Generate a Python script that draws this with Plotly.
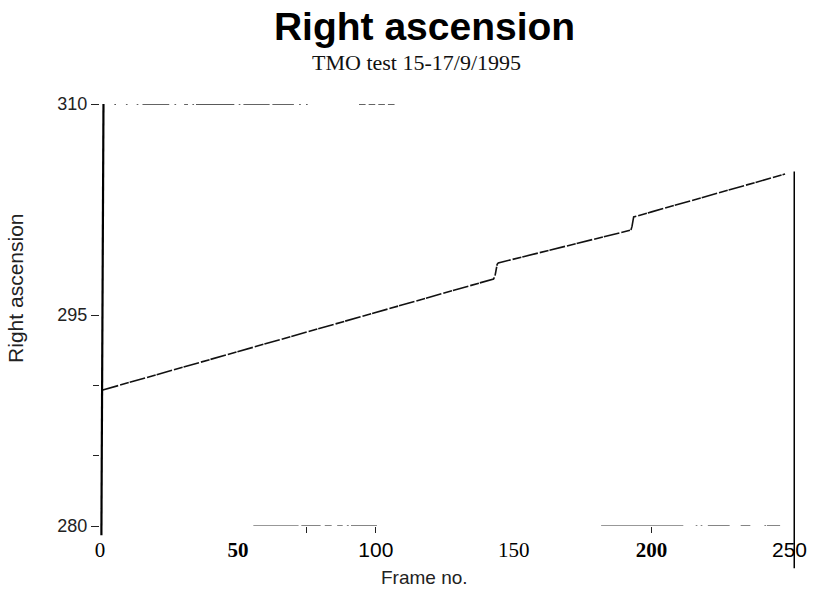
import plotly.graph_objects as go

# ---- data -------------------------------------------------------------
frames = [1, 10, 20, 30, 40, 50, 60, 70, 80, 90, 100, 110, 120, 130, 140, 142.7,
          143.2, 143.6, 144.0, 144.4,
          150, 160, 170, 180, 190, 192.5,
          192.9, 193.2, 193.5,
          200, 210, 220, 230, 240, 248.4]
right_ascension = [289.67, 290.17, 290.73, 291.28, 291.84, 292.40, 292.95, 293.51,
                   294.07, 294.62, 295.18, 295.74, 296.29, 296.85, 297.41, 297.56,
                   297.75, 298.30, 298.60, 298.70,
                   298.97, 299.46, 299.94, 300.43, 300.92, 301.04,
                   301.30, 301.80, 301.97,
                   302.33, 302.89, 303.44, 304.00, 304.55, 305.02]

x_tick_vals = [0, 50, 100, 150, 200, 250]
x_tick_text = ["0", "<b>50</b>",
               "<span style='font-family:Liberation Sans'>100</span>",
               "150", "<b>200</b>",
               "<span style='font-family:Liberation Sans'>250</span>"]
x_minor_vals = [75, 100, 200]
y_tick_vals = [280, 295, 310]
y_tick_text = ["280", "295", "310"]
y_minor_vals = [285, 290]

title_text = "Right ascension"
subtitle_text = "TMO test 15-17/9/1995"
x_title = "Frame no."
y_title = "Right ascension"

# scanned remnants of the top / bottom frame lines (start, end in frame units)
top_fragments = [(5.2, 5.8), (9.4, 10.0), (13.3, 13.9), (15.4, 25.1), (27.0, 27.6),
                 (30.5, 31.9), (33.5, 34.1), (34.8, 48.7), (50.3, 50.9),
                 (52.0, 61.5), (62.5, 70.3), (72.2, 72.8), (74.7, 75.3),
                 (93.9, 96.3), (97.4, 99.8), (100.9, 103.3), (104.4, 106.8)]
bottom_fragments = [(55.6, 72.0), (73.0, 80.0), (81.5, 84.0), (86.0, 88.0),
                    (89.5, 90.2), (91.0, 100.4),
                    (181.7, 211.5), (216.0, 216.6), (217.8, 218.4),
                    (220.4, 228.3), (232.3, 235.8), (240.9, 241.5), (241.8, 246.6)]

# ---- figure -----------------------------------------------------------
fig = go.Figure()
fig.add_trace(go.Scatter(
    x=frames, y=right_ascension, mode="lines",
    line=dict(color="#111", width=1.6, dash="16px,2px,9px,1px"),
    showlegend=False, hoverinfo="x+y"))

shapes = []
for a, b in top_fragments:
    shapes.append(dict(type="line", xref="x", yref="y", x0=a, x1=b, y0=310, y1=310,
                       line=dict(color="#222", width=1.4)))
for a, b in bottom_fragments:
    shapes.append(dict(type="line", xref="x", yref="y", x0=a, x1=b, y0=280, y1=280,
                       line=dict(color="#333", width=1.2)))
# left axis line (extends a little below the plot) and right border line
shapes.append(dict(type="line", xref="paper", yref="paper", x0=0.005, x1=0.002,
                   y0=1.0, y1=-0.022, line=dict(color="#000", width=2.2)))
shapes.append(dict(type="line", xref="x", yref="paper", x0=252, x1=252,
                   y0=-0.1, y1=0.84, line=dict(color="#000", width=3)))

fig.update_layout(
    width=819, height=597,
    margin=dict(l=100, r=16, t=104, b=71),
    paper_bgcolor="white", plot_bgcolor="white",
    title=dict(text="<b>" + title_text + "</b>", x=0.467, xref="paper",
               xanchor="center", y=1 - 26 / 597, yanchor="middle",
               font=dict(family="Liberation Sans", size=39, color="#000")),
    shapes=shapes,
    annotations=[
        dict(text=subtitle_text, xref="paper", yref="paper", x=0.455, y=1.0995,
             xanchor="center", yanchor="middle", showarrow=False,
             font=dict(family="Liberation Serif", size=22, color="#111")),
        dict(text=x_title, xref="paper", yref="paper", x=0.467, y=-0.123,
             xanchor="center", yanchor="middle", showarrow=False,
             font=dict(family="Liberation Sans", size=19, color="#222")),
        dict(text=y_title, xref="paper", yref="paper", x=-0.121, y=0.564,
             xanchor="center", yanchor="middle", showarrow=False, textangle=-90,
             font=dict(family="Liberation Sans", size=21, color="#222")),
    ],
    xaxis=dict(range=[0, 252], showgrid=False, zeroline=False, showline=False,
               tickmode="array", tickvals=x_tick_vals, ticktext=x_tick_text,
               ticks="", ticklabelstandoff=9,
               tickfont=dict(family="Liberation Serif", size=21, color="#000"),
               minor=dict(tickmode="array", tickvals=x_minor_vals, ticks="outside",
                          ticklen=6, tickcolor="#222", tickwidth=1)),
    yaxis=dict(range=[280, 310], showgrid=False, zeroline=False, showline=False,
               tickmode="array", tickvals=y_tick_vals, ticktext=y_tick_text,
               ticks="outside", ticklen=8, tickcolor="#222", tickwidth=1.2,
               tickfont=dict(family="Liberation Sans", size=18, color="#222"),
               minor=dict(tickmode="array", tickvals=y_minor_vals, ticks="outside",
                          ticklen=6, tickcolor="#222", tickwidth=1)),
)

fig.write_html("out.html")
